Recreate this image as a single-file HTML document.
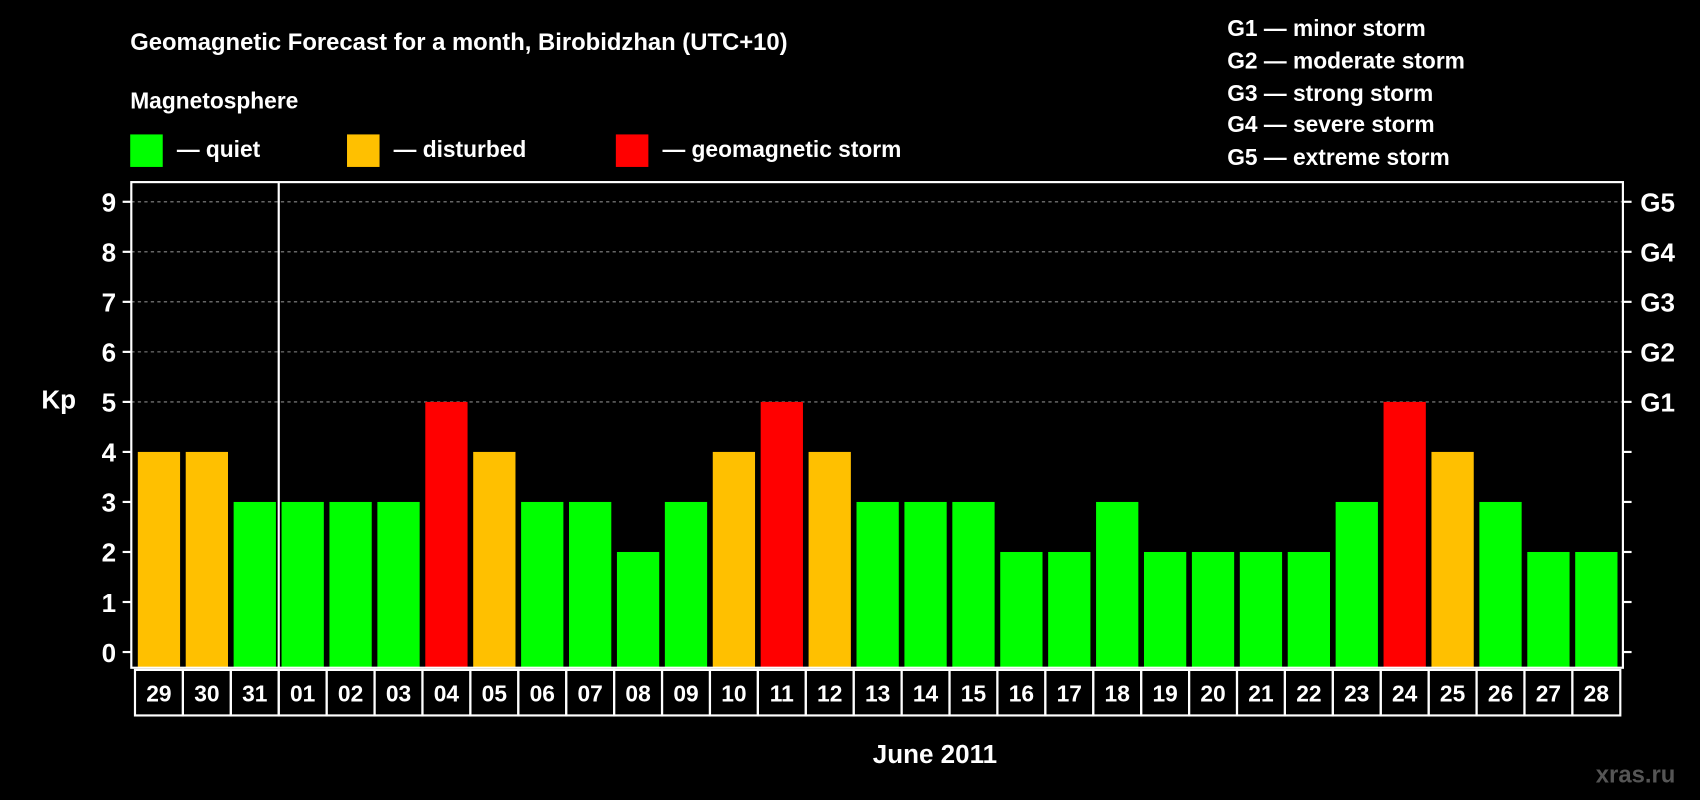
<!DOCTYPE html>
<html><head><meta charset="utf-8"><style>
html,body{margin:0;padding:0;background:#000;}
svg{display:block;font-family:"Liberation Sans",Arial,sans-serif;font-weight:bold;}
</style></head><body>
<svg width="1700" height="800" viewBox="0 0 1568 738">
<rect x="0" y="0" width="1568" height="738" fill="#000"/>
<text x="120" y="46" fill="#fff" font-size="22">Geomagnetic Forecast for a month, Birobidzhan (UTC+10)</text>
<text x="120" y="100" fill="#fff" font-size="21">Magnetosphere</text>
<g><rect x="120" y="124" width="30" height="30" fill="#00ff00"/><text x="163" y="145" fill="#fff" font-size="21">— quiet</text></g>
<g><rect x="320" y="124" width="30" height="30" fill="#ffc000"/><text x="363" y="145" fill="#fff" font-size="21">— disturbed</text></g>
<g><rect x="568" y="124" width="30" height="30" fill="#ff0000"/><text x="611" y="145" fill="#fff" font-size="21">— geomagnetic storm</text></g>
<g fill="#fff" font-size="21">
<text x="1132" y="33">G1 — minor storm</text>
<text x="1132" y="63">G2 — moderate storm</text>
<text x="1132" y="93">G3 — strong storm</text>
<text x="1132" y="122">G4 — severe storm</text>
<text x="1132" y="152">G5 — extreme storm</text>
</g>
<text x="38" y="377" fill="#fff" font-size="24">Kp</text>
<text x="805" y="704" fill="#fff" font-size="24">June 2011</text>
<text x="1472" y="722" fill="#555" font-size="22">xras.ru</text>
<g id="plot"></g>
</svg>
<script>
const categories=["29","30","31","01","02","03","04","05","06","07","08","09","10","11","12","13","14","15","16","17","18","19","20","21","22","23","24","25","26","27","28"];
const kpValues=[4,4,3,3,3,3,5,4,3,3,2,3,4,5,4,3,3,3,2,2,3,2,2,2,2,3,5,4,3,2,2];
const yTicks=[0,1,2,3,4,5,6,7,8,9];
const gLabels={5:"G1",6:"G2",7:"G3",8:"G4",9:"G5"};
const NS="http://www.w3.org/2000/svg";
const plot=document.getElementById('plot');
const L=121,R=1497,T=168,B=616,x0=127,pitch=44.2,bw=39;
const y=v=>601.5-46.15*v;
const x=i=>x0+i*pitch;
function mk(tag,a){const e=document.createElementNS(NS,tag);for(const k in a)e.setAttribute(k,a[k]);plot.appendChild(e);return e;}
yTicks.forEach(t=>{
  if(t>=5){const g=mk('line',{x1:L,x2:R,y1:y(t),y2:y(t),stroke:'#888','stroke-dasharray':'3,3','stroke-width':1});
  
  }
  mk('line',{x1:L-8,x2:L,y1:y(t),y2:y(t),stroke:'#fff','stroke-width':2});
  mk('line',{x1:R,x2:R+8,y1:y(t),y2:y(t),stroke:'#fff','stroke-width':2});
  const tx=mk('text',{x:L-14,y:y(t)+9,fill:'#fff','font-size':24,'text-anchor':'end'});
  tx.textContent=t;
  
  
  if(gLabels[t]){const g=mk('text',{x:R+16,y:y(t)+9,fill:'#fff','font-size':24});g.textContent=gLabels[t];
  
  }
});
kpValues.forEach((v,i)=>{
  const col=v>=5?'#ff0000':(v===4?'#ffc000':'#00ff00');
  const r=mk('rect',{x:x(i),y:y(v),width:bw,height:B-y(v),fill:col});
  
  
  const c=mk('rect',{x:x(i)-2.6,y:B+2,width:pitch,height:42,fill:'none',stroke:'#fff','stroke-width':2});
  
  
  const t=mk('text',{x:x(i)+bw/2,y:B+31,fill:'#fff','font-size':21,'text-anchor':'middle'});
  t.textContent=categories[i];
  
  
});
const sep=mk('line',{x1:x(3)-2.6,x2:x(3)-2.6,y1:T,y2:B,stroke:'#fff','stroke-width':2});


const fr=mk('rect',{x:L,y:T,width:R-L,height:B-T,fill:'none',stroke:'#fff','stroke-width':2});


</script>
</body></html>
